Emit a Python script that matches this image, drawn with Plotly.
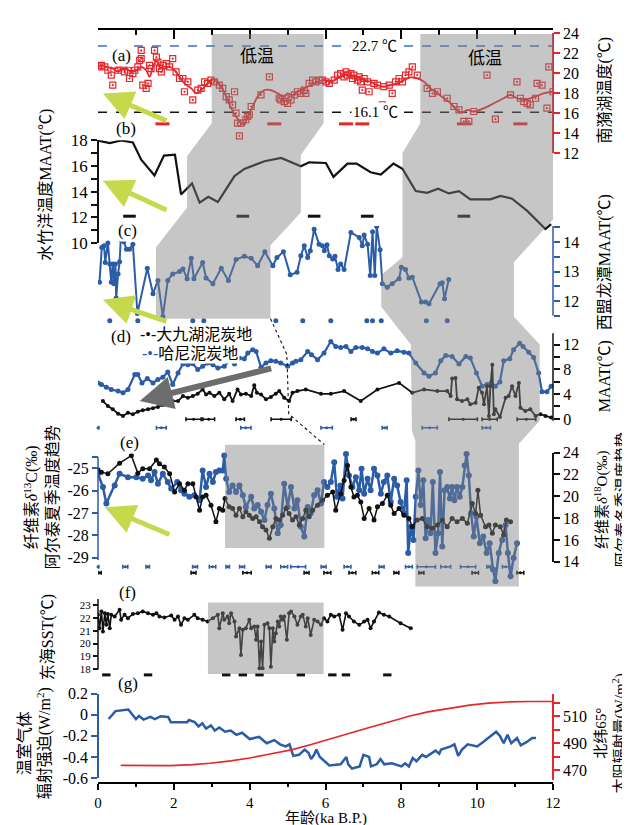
import plotly.graph_objects as go

# ---------------- data ----------------
# (a) 南漪湖温度
A_LINE_X = [0.0,0.09,0.22,0.4,0.53,0.61,0.75,0.88,1.01,1.14,1.27,1.36,1.45,1.54,1.62,1.75,1.89,2.02,2.15,2.28,2.46,2.59,2.72,2.85,2.98,3.11,3.25,3.38,3.51,3.64,3.77,3.86,3.95,4.08,4.21,4.39,4.56,4.74,4.91,5.0,5.13,5.26,5.44,5.61,5.79,5.96,6.14,6.32,6.49,6.67,6.84,7.02,7.19,7.37,7.54,7.72,7.89,8.07,8.25,8.42,8.6,8.77,8.95,9.12,9.3,9.47,9.61,9.74,9.91,10.18,10.44,10.7,10.88,11.05,11.23,11.4,11.54,11.75,12.0]
A_LINE_Y = [20.62,20.78,20.62,20.45,20.12,20.36,20.45,20.12,20.29,20.62,20.29,19.63,20.62,21.27,20.62,20.45,20.62,20.29,19.63,18.98,18.48,17.99,18.32,18.81,19.3,19.3,18.65,17.66,16.51,15.69,15.03,14.87,15.69,16.68,17.66,18.32,18.32,17.99,17.66,17.99,17.82,18.15,18.48,18.81,19.14,19.3,19.14,19.47,19.8,19.8,19.63,19.3,19.14,18.81,18.65,18.81,18.98,19.3,19.57,19.47,19.14,18.48,17.99,17.5,17.0,16.28,16.08,16.35,16.18,16.51,17.0,17.5,17.83,17.5,17.33,17.5,17.66,17.99,18.15]
A_PTS_X = [0.0,0.09,0.18,0.26,0.35,0.39,0.44,0.53,0.57,0.66,0.7,0.79,0.83,0.92,0.97,1.05,1.1,1.14,1.14,1.18,1.27,1.32,1.36,1.4,1.49,1.54,1.58,1.62,1.67,1.71,1.8,1.89,1.97,2.06,2.15,2.24,2.28,2.37,2.5,2.63,2.72,2.81,2.89,
           2.98,3.07,3.2,3.29,3.38,3.46,3.55,3.6,3.64,3.68,3.73,3.77,3.9,3.95,3.99,4.04,4.3,4.52,4.78,4.82,4.91,4.96,5.0,5.09,5.18,5.26,5.35,5.44,5.48,5.57,5.66,5.75,5.83,5.92,
           6.01,6.1,6.23,6.32,6.4,6.49,6.54,6.58,6.67,6.71,6.75,6.84,6.89,6.93,6.97,7.02,7.11,7.15,7.28,7.37,7.5,7.54,7.68,7.76,7.85,7.94,8.03,8.11,8.2,8.29,8.42,
           8.68,8.82,8.95,9.21,9.39,9.52,9.65,9.78,9.91,10.26,10.48,10.88,11.05,11.14,11.23,11.32,11.4,11.54,11.58,11.71,11.84,11.89,12.0]
A_PTS_Y = [20.62,20.78,20.62,20.29,19.8,18.81,20.78,20.29,20.95,20.62,20.12,20.29,19.47,19.96,20.29,20.62,21.27,22.26,21.44,18.81,18.48,18.98,20.78,20.45,22.26,21.6,21.11,20.45,20.12,20.78,20.95,20.62,21.44,20.12,19.47,19.47,18.15,19.14,17.33,18.32,18.48,19.14,18.98,
           19.3,19.14,18.81,18.48,17.66,17.33,16.84,18.15,16.02,15.03,13.75,15.03,15.36,15.69,15.86,16.68,17.83,19.63,17.5,17.33,17.17,17.5,17.0,17.33,17.83,18.15,17.99,18.32,17.99,18.98,19.3,19.14,19.3,19.3,
           19.14,18.98,19.3,19.8,19.96,19.63,20.12,19.8,19.96,19.47,19.8,19.3,19.63,19.14,18.32,19.47,19.14,18.15,18.98,18.81,16.84,18.65,18.81,17.99,19.14,19.47,19.14,19.8,20.12,20.62,19.8,
           18.48,17.99,18.15,17.5,16.68,16.35,15.2,15.2,16.18,19.8,15.43,17.83,19.14,17.5,17.17,17.0,16.84,17.5,18.98,18.81,16.51,20.62,18.15]
A_AGE_X = [1.7, 4.65, 6.54, 6.97, 9.65, 11.14]
A_AGE_Y = [14.95] * len(A_AGE_X)
A_REF_LINES = [22.7, 16.1]

# (b) 水竹洋 MAAT
B_X = [0.0,0.31,0.61,0.92,1.14,1.49,1.74,2.03,2.19,2.48,2.68,2.91,3.16,3.6,3.86,4.39,4.83,5.35,5.57,6.01,6.21,6.58,6.82,7.19,7.46,7.79,8.03,8.38,8.68,8.97,9.25,9.52,9.82,10.35,10.61,10.92,11.32,11.8,11.95]
B_Y = [17.97,17.77,17.97,17.82,16.49,15.26,16.8,16.87,13.79,14.64,13.15,13.61,13.2,15.21,15.77,16.36,16.62,15.98,16.28,16.23,15.15,16.18,16.18,15.51,15.33,16.18,15.77,14.05,13.92,14.23,13.87,14.05,13.41,13.41,13.67,13.46,12.51,11.1,11.49]
B_AGE_X = [0.83, 3.82, 5.7, 7.1, 9.65]
B_AGE_Y = [12.1] * len(B_AGE_X)

# (c) 西盟龙潭 MAAT
C_X = [0.04,0.1,0.16,0.19,0.26,0.31,0.35,0.39,0.42,0.46,0.48,0.53,0.57,0.6,0.68,0.75,0.83,0.92,1.04,1.3,1.45,1.58,1.71,1.84,1.97,2.15,2.24,2.35,2.46,2.53,2.76,2.85,3.03,3.25,3.44,3.64,3.86,4.04,4.21,4.4,4.61,4.72,4.89,5.07,5.25,5.35,5.44,5.53,5.6,5.7,5.83,5.92,5.97,6.04,6.1,6.19,6.25,6.33,6.4,6.49,6.67,6.89,6.97,7.02,7.11,7.18,7.24,7.3,7.35,7.44,7.5,7.63,7.76,7.94,8.0,8.11,8.2,8.29,8.53,8.64,8.73,9.02,9.08,9.14,9.25]
C_Y = [12.64,13.82,13.88,13.31,13.97,13.26,12.64,13.26,12.59,13.26,12.1,12.92,13.33,14.08,14.01,13.76,13.76,13.93,11.58,13.11,12.25,12.7,11.47,12.7,12.92,13.0,13.09,12.76,13.45,12.76,13.31,12.78,12.59,13.11,12.7,13.41,13.52,13.45,13.2,13.67,13.2,13.48,13.67,12.89,12.98,13.54,13.88,13.48,13.71,14.44,13.93,13.88,13.71,13.91,13.54,13.43,13.52,13.07,13.26,13.07,14.33,14.16,13.88,14.24,13.93,12.87,14.35,12.87,14.53,13.74,12.59,12.47,12.59,12.76,13.15,13.07,12.78,12.81,11.97,11.97,11.91,12.59,12.62,12.08,12.73]
C_AGE_X = [0.31, 1.05, 2.5, 2.79, 4.69, 5.4, 6.14, 7.09, 7.24, 7.47, 8.66, 9.21]
C_AGE_Y = [11.33] * len(C_AGE_X)

# (d) 大九湖泥炭地 / 哈尼泥炭地 MAAT
DB_X = [0.0,0.09,0.22,0.35,0.53,0.66,0.79,0.97,1.05,1.16,1.3,1.45,1.58,1.71,1.84,1.97,2.11,2.24,2.37,2.5,2.63,2.76,2.89,3.03,3.16,3.33,3.46,3.6,3.73,3.86,3.95,4.08,4.17,4.3,4.43,4.56,4.69,4.82,5.0,5.13,5.22,5.35,5.53,5.63,5.79,5.96,6.14,6.27,6.4,6.54,6.67,6.8,6.97,7.11,7.24,7.37,7.54,7.72,7.89,8.07,8.2,8.38,8.6,8.73,8.9,9.04,9.17,9.34,9.52,9.7,9.82,9.98,10.13,10.26,10.37,10.48,10.6,10.7,10.86,10.96,11.12,11.21,11.36,11.49,11.62,11.71,11.84,11.95]
DB_Y = [5.81,5.55,5.12,4.75,4.48,4.21,4.75,7.15,7.15,5.81,6.51,5.81,6.35,6.72,7.57,5.55,7.41,8.85,8.75,8.91,7.95,8.48,9.01,8.75,8.21,8.48,9.39,8.85,9.81,9.71,10.61,11.15,10.88,8.32,9.01,9.39,9.28,9.01,8.48,9.01,9.28,9.55,10.88,10.35,9.55,10.61,12.48,11.68,11.52,11.68,10.88,11.52,11.52,11.31,10.88,10.61,11.31,10.61,10.98,10.77,10.61,9.01,7.41,6.88,7.41,9.39,10.24,10.08,8.85,10.08,9.81,7.41,5.28,5.55,5.81,5.28,5.97,9.39,9.71,11.15,12.21,11.68,10.77,9.92,7.41,4.37,4.37,5.28]
DK_X = [0.13,0.26,0.39,0.53,0.66,0.79,0.92,1.05,1.18,1.32,1.45,1.58,1.71,1.84,1.97,2.11,2.24,2.37,2.5,2.63,2.76,2.85,2.94,3.07,3.2,3.33,3.46,3.55,3.68,3.77,3.9,4.04,4.12,4.19,4.3,4.43,4.56,4.69,4.78,4.91,5.04,5.13,5.26,5.48,5.88,6.14,6.49,6.93,7.37,7.94,8.29,8.6,8.95,9.21,9.3,9.34,9.43,9.47,9.6,9.74,9.82,9.96,10.04,10.13,10.18,10.26,10.31,10.35,10.4,10.44,10.48,10.6,10.75,10.83,10.92,11.01,11.1,11.14,11.27,11.4,11.54,11.67,11.8,11.95]
DK_Y = [2.88,2.08,1.55,0.85,0.48,1.01,0.75,1.17,1.39,1.55,1.71,1.92,2.24,2.45,2.88,2.88,3.68,3.41,3.68,4.05,4.75,3.95,4.21,3.68,4.21,3.15,4.05,2.88,4.75,3.95,4.05,3.68,5.44,4.21,3.95,3.15,3.52,4.05,4.48,3.41,2.88,4.21,4.48,4.75,4.05,4.05,4.48,2.88,4.75,5.81,4.21,4.75,4.48,4.48,3.68,6.51,6.61,3.15,2.88,3.15,2.35,2.61,5.01,4.21,2.35,5.28,0.48,5.28,8.75,0.75,1.55,0.32,3.41,3.68,5.28,3.68,5.81,1.81,1.28,1.55,0.48,0.75,0.48,0.21]
DK_AGE_X = [2.52, 2.92, 3.75, 4.83, 6.74, 9.63, 10.33, 11.3]
DK_AGE_ERR = [0.2, 0.155, 0.11, 0.265, 0.065, 0.375, 0.2, 0.245]
DK_AGE_Y = [-0.05] * len(DK_AGE_X)
DB_AGE_X = [0.0, 1.67, 3.9, 6.03, 7.56, 8.75, 10.24]
DB_AGE_ERR = [0.02, 0.13, 0.135, 0.15, 0.065, 0.2, 0.11]
DB_AGE_Y = [-1.44] * len(DB_AGE_X)

# (e) 阿尔泰 纤维素 δ13C (blue) / δ18O (black)
EB_X = [0.0,0.13,0.22,0.44,0.57,0.79,1.01,1.18,1.32,1.4,1.49,1.58,1.71,1.84,1.93,2.09,2.19,2.28,2.41,2.54,2.68,2.76,2.85,2.94,3.03,3.11,3.2,3.29,3.33,3.38,3.46,3.55,3.64,3.73,3.82,3.9,4.04,4.12,4.21,4.3,4.39,4.47,4.56,4.65,4.74,4.82,4.91,5.0,5.09,5.18,5.26,5.35,5.44,5.53,5.61,5.7,5.79,5.88,5.96,6.05,6.14,6.23,6.3,6.39,6.45,6.54,6.62,6.71,6.8,6.89,6.95,7.02,7.11,7.19,7.28,7.37,7.46,7.54,7.63,7.72,7.81,7.89,7.98,8.07,8.14,8.18,8.25,8.32,8.38,8.45,8.51,8.58,8.64,8.7,8.77,8.83,8.9,8.97,9.02,9.08,9.14,9.21,9.28,9.34,9.4,9.47,9.54,9.61,9.67,9.72,9.78,9.84,9.91,9.98,10.07,10.16,10.25,10.33,10.42,10.48,10.57,10.66,10.75,10.81,10.88,10.96,11.05]
EB_Y = [-25.24,-25.83,-26.57,-25.76,-25.24,-25.39,-25.39,-25.46,-25.31,-25.53,-25.16,-25.68,-25.24,-25.61,-25.9,-25.61,-25.98,-26.13,-26.27,-26.2,-26.42,-25.09,-25.83,-25.24,-25.61,-25.16,-25.09,-25.09,-24.42,-25.46,-26.05,-25.76,-26.05,-25.76,-26.2,-26.72,-26.27,-26.79,-26.64,-26.94,-27.31,-26.64,-26.13,-26.79,-27.9,-27.53,-25.68,-26.72,-25.83,-26.79,-26.42,-27.61,-28.05,-26.72,-27.01,-26.2,-25.98,-26.57,-25.61,-25.83,-25.61,-24.72,-26.27,-25.76,-26.35,-24.35,-25.31,-25.83,-25.39,-25.98,-25.01,-26.13,-25.46,-25.98,-25.01,-25.31,-26.13,-25.61,-25.31,-26.5,-25.46,-25.76,-26.5,-27.01,-25.53,-28.79,-27.61,-28.2,-26.27,-25.09,-26.64,-25.53,-28.13,-27.31,-27.9,-25.61,-28.79,-27.9,-25.16,-28.5,-25.98,-25.83,-26.35,-25.83,-26.42,-25.83,-26.27,-25.83,-24.87,-24.35,-25.31,-27.01,-28.05,-27.16,-28.35,-28.05,-28.79,-28.35,-29.53,-30.05,-28.79,-28.2,-27.53,-28.79,-29.83,-29.01,-28.35]
EK_X = [0.0,0.09,0.26,0.57,0.88,1.05,1.18,1.36,1.54,1.62,1.75,1.89,2.02,2.15,2.28,2.37,2.5,2.59,2.68,2.76,2.85,2.98,3.11,3.2,3.29,3.35,3.46,3.55,3.64,3.73,3.82,3.9,3.99,4.08,4.17,4.26,4.34,4.43,4.52,4.61,4.69,4.78,4.87,4.96,5.04,5.13,5.22,5.31,5.4,5.48,5.57,5.66,5.79,5.92,6.05,6.19,6.27,6.4,6.49,6.58,6.67,6.75,6.84,6.93,7.02,7.15,7.28,7.37,7.5,7.63,7.72,7.81,7.94,8.07,8.2,8.29,8.42,8.55,8.68,8.82,8.95,9.08,9.21,9.34,9.47,9.61,9.74,9.87,9.96,10.02,10.09,10.22,10.31,10.4,10.48,10.61,10.7,10.77,10.88]
EK_Y = [22.42,22.21,22.06,23.03,23.73,22.12,22.52,22.52,23.33,22.97,22.67,22.06,20.39,21.15,20.55,21.15,21.15,19.94,18.73,19.94,20.09,19.18,17.67,18.88,18.73,19.79,19.03,18.88,18.27,18.88,18.12,18.58,18.27,17.97,18.12,17.67,17.21,16.91,16.15,17.21,17.97,17.82,18.27,18.88,18.42,17.82,18.12,17.36,17.97,18.73,18.12,18.73,19.18,19.64,20.09,20.39,18.73,20.24,21.45,22.82,20.85,19.94,20.09,19.48,17.97,18.88,17.82,19.03,19.33,20.09,19.18,18.42,18.88,18.27,17.97,17.21,17.82,17.97,17.21,17.06,17.36,17.82,17.21,17.97,17.67,17.97,17.52,19.33,18.42,20.55,18.27,17.21,17.36,16.61,17.36,17.21,16.45,17.82,17.67]
EB_AGE_X = [0.0,0.72,1.31,2.56,3.02,3.42,3.8,4.5,4.91,5.28,5.95,6.58,7.48,8.2,8.66,9.17,9.76,10.3,10.75]
EB_AGE_ERR = [0.02,0.065,0.045,0.065,0.085,0.045,0.065,0.065,0.09,0.195,0.065,0.09,0.065,0.09,0.24,0.13,0.2,0.045,0.085]
EB_AGE_Y = [-29.4] * len(EB_AGE_X)
EK_AGE_X = [0.04,2.52,3.93,5.5,6.05,6.71,7.32,7.87,8.53,9.95,11.14]
EK_AGE_ERR = [0.045,0.065,0.11,0.065,0.09,0.09,0.085,0.065,0.065,0.085,0.09]
EK_AGE_Y = [-29.67] * len(EK_AGE_X)

# (f) 东海 SST
F_X = [0.0,0.04,0.09,0.13,0.18,0.22,0.26,0.31,0.35,0.44,0.57,0.61,0.70,0.79,0.92,1.05,1.18,1.32,1.45,1.54,1.62,1.75,1.93,2.02,2.11,2.19,2.28,2.37,2.54,2.63,2.76,2.89,3.03,3.16,3.20,3.29,3.33,3.42,3.46,3.51,3.60,3.64,3.73,3.77,3.82,3.90,3.99,4.04,4.12,4.17,4.21,4.26,4.30,4.34,4.39,4.47,4.52,4.56,4.61,4.65,4.69,4.74,4.78,4.82,4.87,4.91,4.98,5.04,5.09,5.18,5.26,5.35,5.40,5.48,5.53,5.61,5.70,5.79,5.88,5.96,6.05,6.14,6.23,6.36,6.45,6.54,6.62,6.75,6.89,7.02,7.11,7.19,7.28,7.41,7.54,7.68,7.98,8.25]
F_Y = [22.26,21.21,22.53,20.95,22.39,21.47,22.32,21.21,22.26,22.13,22.66,21.87,22.26,22.0,22.32,22.39,22.53,22.39,22.26,22.39,22.13,22.05,22.21,21.87,22.13,21.47,22.0,21.87,22.26,22.0,21.87,21.74,22.0,22.26,21.21,22.39,21.87,22.13,21.6,22.39,21.74,20.55,21.21,19.1,21.08,21.21,21.87,21.21,21.34,20.29,21.34,18.05,20.16,18.05,21.47,21.6,21.21,18.18,21.21,20.16,20.82,21.74,21.34,22.13,21.87,22.13,20.29,22.39,22.53,22.13,21.47,22.13,22.26,21.34,22.0,20.68,21.87,21.74,21.47,22.0,21.74,22.26,22.13,22.26,21.08,22.39,22.13,21.74,21.47,21.74,21.87,21.21,21.74,22.45,22.26,22.13,21.6,21.21]
F_AGE_X = [0.22, 0.75, 1.32, 3.38, 3.82, 4.26, 5.35, 6.18, 6.54, 7.63]
F_AGE_Y = [17.53] * len(F_AGE_X)

# (g) 温室气体辐射强迫 / 北纬65°太阳辐射量
GB_X = [0.28,0.46,0.8,0.9,1.0,1.08,1.2,1.38,1.5,1.65,1.85,1.92,2.35,2.4,2.55,2.65,2.75,2.85,2.98,3.08,3.2,3.35,3.5,3.65,3.8,4.0,4.25,4.45,4.65,4.8,4.95,5.05,5.15,5.3,5.45,5.55,5.62,5.7,5.76,5.85,6.1,6.4,6.55,6.6,6.7,6.9,7.0,7.15,7.2,7.35,7.45,7.55,7.75,8.0,8.1,8.2,8.3,8.4,8.55,8.65,8.8,8.9,9.0,9.05,9.3,9.4,9.5,9.6,9.75,10.0,10.15,10.3,10.5,10.6,10.7,10.8,10.9,11.05,11.15,11.3,11.45,11.55]
GB_Y = [-0.04,0.035,0.05,0.0,-0.04,-0.01,-0.045,-0.02,-0.04,-0.015,-0.02,-0.07,-0.07,-0.05,-0.07,-0.11,-0.08,-0.13,-0.1,-0.15,-0.12,-0.16,-0.15,-0.19,-0.17,-0.23,-0.21,-0.27,-0.24,-0.28,-0.3,-0.28,-0.39,-0.38,-0.33,-0.36,-0.42,-0.38,-0.33,-0.4,-0.48,-0.47,-0.4,-0.47,-0.51,-0.49,-0.38,-0.4,-0.49,-0.47,-0.42,-0.47,-0.46,-0.49,-0.46,-0.49,-0.41,-0.44,-0.38,-0.4,-0.36,-0.34,-0.37,-0.33,-0.3,-0.28,-0.39,-0.33,-0.28,-0.3,-0.26,-0.22,-0.16,-0.2,-0.27,-0.19,-0.27,-0.22,-0.29,-0.26,-0.22,-0.22]
GR_X = [0.6,1.0,1.5,1.9,2.5,2.95,3.5,4.0,4.5,5.1,5.6,6.1,6.6,7.2,7.7,8.2,8.7,9.3,9.8,10.3,10.8,11.4,12.0]
GR_Y = [473.5,473.3,473.2,473.3,474.0,475.0,476.8,479.0,481.8,485.0,488.8,493.0,497.5,502.0,506.0,510.0,513.3,516.0,518.3,519.8,520.7,521.0,521.0]

X_TICKS = [0, 2, 4, 6, 8, 10, 12]
X_MINOR = [1, 3, 5, 7, 9, 11]

# ---------------- style ----------------
RED = "#e5262b"
BLUE = "#2b5ca8"
BLACK = "#111111"
GREEN = "#c6d84b"
SERIF = "Liberation Serif, Times New Roman, serif"
CJK = "Liberation Serif, Noto Sans CJK SC, serif"

fig = go.Figure()

def line_trace(x, y, ax, color, width, msize=0, shape="linear"):
    mode = "lines+markers" if msize else "lines"
    return go.Scatter(x=x, y=y, yaxis=ax, mode=mode, line=dict(color=color, width=width, shape=shape),
                      marker=dict(size=msize, color=color), hoverinfo="skip", showlegend=False)

def dash_trace(x, y, ax, color, size, width=3):
    return go.Scatter(x=x, y=y, yaxis=ax, mode="markers", cliponaxis=False,
                      marker=dict(symbol="line-ew", size=size, line=dict(color=color, width=width)),
                      hoverinfo="skip", showlegend=False)

def err_trace(x, err, y, ax, color):
    return go.Scatter(x=x, y=y, yaxis=ax, mode="markers", cliponaxis=False,
                      marker=dict(size=3, color=color),
                      error_x=dict(type="data", array=err, color=color, thickness=1.6, width=2),
                      hoverinfo="skip", showlegend=False)

# (a)
fig.add_trace(go.Scatter(x=A_PTS_X, y=A_PTS_Y, yaxis="y", mode="markers",
                         marker=dict(symbol="square-open-dot", size=6, color=RED, line=dict(width=1.2)),
                         hoverinfo="skip", showlegend=False))
fig.add_trace(line_trace(A_LINE_X, A_LINE_Y, "y", RED, 1.8, shape="spline"))
fig.add_trace(dash_trace(A_AGE_X, A_AGE_Y, "y", RED, 10))
# (b)
fig.add_trace(line_trace(B_X, B_Y, "y2", BLACK, 2.2))
fig.add_trace(dash_trace(B_AGE_X, B_AGE_Y, "y2", BLACK, 9))
# (c)
fig.add_trace(line_trace(C_X, C_Y, "y3", BLUE, 2, 5))
fig.add_trace(go.Scatter(x=C_AGE_X, y=C_AGE_Y, yaxis="y3", mode="markers", cliponaxis=False,
                         marker=dict(size=5, color=BLUE), hoverinfo="skip", showlegend=False))
# (d)
fig.add_trace(line_trace(DB_X, DB_Y, "y4", BLUE, 2.2, 5))
fig.add_trace(line_trace(DK_X, DK_Y, "y4", BLACK, 1.8, 4))
fig.add_trace(err_trace(DK_AGE_X, DK_AGE_ERR, DK_AGE_Y, "y4", BLACK))
fig.add_trace(err_trace(DB_AGE_X, DB_AGE_ERR, DB_AGE_Y, "y4", BLUE))
# (e)
fig.add_trace(line_trace(EK_X, EK_Y, "y6", BLACK, 1.5, 5))
fig.add_trace(line_trace(EB_X, EB_Y, "y5", BLUE, 2.5, 6))
fig.add_trace(err_trace(EB_AGE_X, EB_AGE_ERR, EB_AGE_Y, "y5", BLUE))
fig.add_trace(err_trace(EK_AGE_X, EK_AGE_ERR, EK_AGE_Y, "y5", BLACK))
# (f)
fig.add_trace(line_trace(F_X, F_Y, "y7", BLACK, 1.6, 4))
fig.add_trace(dash_trace(F_AGE_X, F_AGE_Y, "y7", BLACK, 6))
# (g)
fig.add_trace(line_trace(GB_X, GB_Y, "y8", BLUE, 2.5))
fig.add_trace(line_trace(GR_X, GR_Y, "y9", RED, 1.6))
# top axis carrier
fig.add_trace(go.Scatter(x=[None], y=[None], xaxis="x2", yaxis="y", showlegend=False, hoverinfo="skip"))

def yax(domain, rng, side, color, tickvals, ticktext, showline=True, size=16, ticklen=6):
    return dict(domain=domain, range=rng, anchor="free", position=0 if side == "left" else 1, side=side,
                showline=showline, linecolor=color, linewidth=1.5, ticks="outside", tickcolor=color,
                tickwidth=1.5, ticklen=ticklen, tickvals=tickvals, ticktext=ticktext,
                tickfont=dict(family=SERIF, size=size, color="black"),
                showgrid=False, zeroline=False, fixedrange=True)

layout = dict(
    width=630, height=825, margin=dict(l=90, r=85, t=15, b=50),
    plot_bgcolor="rgba(0,0,0,0)", paper_bgcolor="white", showlegend=False,
    xaxis=dict(domain=[0, 1], range=[0, 12], anchor="free", position=0, showline=True, linecolor="black",
               linewidth=1.5, ticks="outside", tickvals=X_TICKS, ticklen=6, tickwidth=1.5, tickcolor="black",
               minor=dict(tickvals=X_MINOR, ticklen=3, ticks="outside", tickcolor="black", tickwidth=1.5),
               tickfont=dict(family=SERIF, size=15, color="black"), showgrid=False, zeroline=False),
    xaxis2=dict(overlaying="x", range=[0, 12], anchor="free", position=1, side="top", showline=True,
                linecolor="black", linewidth=1.5, ticks="inside", tickvals=X_TICKS, ticklen=9, tickwidth=1.5,
                tickcolor="black",
                minor=dict(tickvals=X_MINOR, ticklen=5, ticks="inside", tickcolor="black", tickwidth=1.5),
                showticklabels=False, showgrid=False, zeroline=False),
    yaxis=yax([0.8349, 0.9947], [12, 24], "right", RED, [12, 14, 16, 18, 20, 22, 24],
              ["12", "14", "16", "18", "20", "22", "24"]),
    yaxis2=yax([0.7158, 0.8526], [10, 18], "left", BLACK, [10, 11, 12, 13, 14, 15, 16, 17, 18],
               ["10", "", "12", "", "14", "", "16", "", "18"], size=17),
    yaxis3=yax([0.608, 0.7388], [11.2, 14.55], "right", BLUE, [11.5, 12, 12.5, 13, 13.5, 14, 14.5],
               ["", "12", "", "13", "", "14", ""], showline=False),
    yaxis4=yax([0.4681, 0.598], [-1.8, 14], "right", BLACK, [0, 2, 4, 6, 8, 10, 12],
               ["0", "", "4", "", "8", "", "12"], showline=False),
    yaxis5=yax([0.2632, 0.4408], [-30.2, -24.2], "left", BLUE, [-29, -28, -27, -26, -25, -24.5],
               ["-29", "-28", "-27", "-26", "-25", ""], showline=False),
    yaxis6=yax([0.2934, 0.4382], [14, 24], "right", BLACK, [14, 16, 18, 20, 22, 24],
               ["14", "16", "18", "20", "22", "24"]),
    yaxis7=yax([0.1395, 0.2439], [17.3, 23.5], "left", BLACK, [18, 19, 20, 21, 22, 23],
               ["18", "19", "20", "21", "22", "23"], showline=False, size=11, ticklen=5),
    yaxis8=yax([0.0066, 0.1184], [-0.6, 0.2], "left", BLUE, [-0.6, -0.4, -0.2, 0, 0.2],
               ["-0.6", "-0.4", "-0.2", "0", "0.2"]),
    yaxis9=yax([0.004, 0.1184], [462.6, 526.8], "right", RED, [470, 480, 490, 500, 510, 520],
               ["470", "", "490", "", "510", ""]),
)
fig.update_layout(**layout)

# ---------------- shapes ----------------
def path_from(verts):
    return "M " + " L ".join(f"{x},{y}" for x, y in verts) + " Z"

LEFT_GRAY = [(3.0, 0.9934), (5.95, 0.9934), (5.95, 0.875), (5.35, 0.8329), (5.35, 0.7566), (4.55, 0.7132),
             (4.55, 0.6158), (1.53, 0.6158), (1.53, 0.7105), (2.35, 0.7632), (2.35, 0.8316), (3.0, 0.875)]
RIGHT_GRAY = [(8.5, 0.9934), (12, 0.9934), (12, 0.7474), (10.97, 0.6908), (10.97, 0.6184), (11.65, 0.5816),
              (11.65, 0.4803), (11.1, 0.45), (11.1, 0.2605), (8.37, 0.2605), (8.37, 0.4539), (8.28, 0.4671),
              (8.25, 0.5816), (7.47, 0.6316), (7.47, 0.6737), (8.03, 0.6974), (8.03, 0.8355), (8.5, 0.875)]
shapes = []
shapes.append(dict(type="line", xref="x", yref="y", x0=0, x1=12, y0=A_REF_LINES[0], y1=A_REF_LINES[0],
                   line=dict(color="#3b6fc6", width=1.6, dash="dash"), layer="below"))
shapes.append(dict(type="line", xref="x", yref="y", x0=0, x1=12, y0=A_REF_LINES[1], y1=A_REF_LINES[1],
                   line=dict(color=BLACK, width=1.6, dash="dash"), layer="below"))
gray = dict(fillcolor="rgb(128,128,128)", opacity=0.45, line=dict(width=0), layer="above")
shapes.append(dict(type="path", xref="x", yref="paper", path=path_from(LEFT_GRAY), **gray))
shapes.append(dict(type="path", xref="x", yref="paper", path=path_from(RIGHT_GRAY), **gray))
shapes.append(dict(type="rect", xref="x", yref="paper", x0=3.35, x1=5.97, y0=0.3118, y1=0.4487, **gray))
shapes.append(dict(type="rect", xref="x", yref="paper", x0=2.9, x1=5.95, y0=0.1447, y1=0.2395, **gray))
shapes.append(dict(type="path", xref="x", yref="paper",
                   path="M 4.55,0.6158 L 4.98,0.5684 L 5.03,0.4895 L 5.97,0.4487",
                   line=dict(color=BLACK, width=1.1, dash="dot"), layer="above"))
shapes.append(dict(type="line", xref="paper", yref="y3", x0=1, x1=1, y0=11.5, y1=14.55, line=dict(color=BLUE, width=1.5)))
shapes.append(dict(type="line", xref="paper", yref="y4", x0=1, x1=1, y0=-0.3, y1=13.8, line=dict(color=BLACK, width=1.5)))
shapes.append(dict(type="line", xref="paper", yref="y5", x0=0, x1=0, y0=-29.1, y1=-24.5, line=dict(color=BLUE, width=1.5)))
shapes.append(dict(type="line", xref="paper", yref="y7", x0=0, x1=0, y0=17.95, y1=23.5, line=dict(color=BLACK, width=1.5)))
fig.update_layout(shapes=shapes)

# ---------------- annotations ----------------
ann = []
def txt(text, x, y, xref="x", yref="paper", size=16, family=SERIF, bg=None, angle=0, xanchor="center", color="black"):
    d = dict(text=text, x=x, y=y, xref=xref, yref=yref, showarrow=False, textangle=angle, xanchor=xanchor,
             yanchor="middle", font=dict(family=family, size=size, color=color))
    if bg:
        d["bgcolor"] = bg
    ann.append(d)

for lab, x, y in [("(a)", 0.61, 0.9645), ("(b)", 0.74, 0.8684), ("(c)", 0.79, 0.7329), ("(d)", 0.61, 0.5921),
                  ("(e)", 0.84, 0.4513), ("(f)", 0.79, 0.2526), ("(g)", 0.79, 0.1316)]:
    txt(lab, x, y, size=17, bg="white")
txt("低温", 4.2, 0.9632, size=17, family=CJK)
txt("低温", 10.2, 0.9605, size=17, family=CJK)
txt("22.7 ℃", 7.3, A_REF_LINES[0], yref="y", size=15, family=CJK, bg="white")
txt("16.1 ℃", 7.32, A_REF_LINES[1], yref="y", size=15, family=CJK, bg="white")
txt("<span style='color:#111111'>-•-</span>大九湖泥炭地", 1.05, 0.5947, size=16, family=CJK, bg="white", xanchor="left")
txt("<span style='color:#2b5ca8'>-•-</span>哈尼泥炭地", 1.1, 0.5697, size=16, family=CJK, bg="white", xanchor="left")
txt("水竹洋温度MAAT(℃)", -0.1143, 0.7934, xref="paper", size=16, family=CJK, angle=-90)
txt("纤维素<i>δ</i><sup>13</sup>C(‰)<br>阿尔泰夏季温度趋势", -0.1253, 0.3789, xref="paper", size=16, family=CJK, angle=-90)
txt("东海SST(℃)", -0.1099, 0.1934, xref="paper", size=16, family=CJK, angle=-90)
txt("温室气体<br>辐射强迫(W/m<sup>2</sup>)", -0.1385, 0.0526, xref="paper", size=16, family=CJK, angle=-90)
txt("南漪湖温度(℃)", 1.1143, 0.9184, xref="paper", size=16, family=CJK, angle=-90)
txt("西盟龙潭MAAT(℃)", 1.1143, 0.6908, xref="paper", size=16, family=CJK, angle=-90)
txt("MAAT(℃)", 1.1143, 0.5395, xref="paper", size=16, family=CJK, angle=-90)
txt("纤维素<i>δ</i><sup>18</sup>O(‰)<br>阿尔泰冬季温度趋势", 1.1275, 0.375, xref="paper", size=15, family=CJK, angle=-90)
txt("北纬65°<br>太阳辐射量(W/m<sup>2</sup>)", 1.1275, 0.0658, xref="paper", size=15, family=CJK, angle=-90)
txt("年龄(ka B.P.)", 0.5, -0.0465, xref="paper", size=15, family=CJK)

for x, y, ax_, ay_ in [(0.13, 0.9145, 65, 28), (0.13, 0.7987, 65, 30), (0.13, 0.6408, 65, 22), (0.18, 0.3658, 66, 28)]:
    ann.append(dict(x=x, y=y, xref="x", yref="paper", ax=ax_, ay=ay_, text="", showarrow=True,
                    arrowhead=2, arrowsize=1.2, arrowwidth=5, arrowcolor=GREEN, standoff=0))
ann.append(dict(x=1.1, y=0.5066, xref="x", yref="paper", ax=133, ay=-33, text="", showarrow=True,
                arrowhead=2, arrowsize=1.1, arrowwidth=6, arrowcolor="#6d6d6d", standoff=0))
fig.update_layout(annotations=ann)

fig.write_html("out.html")
